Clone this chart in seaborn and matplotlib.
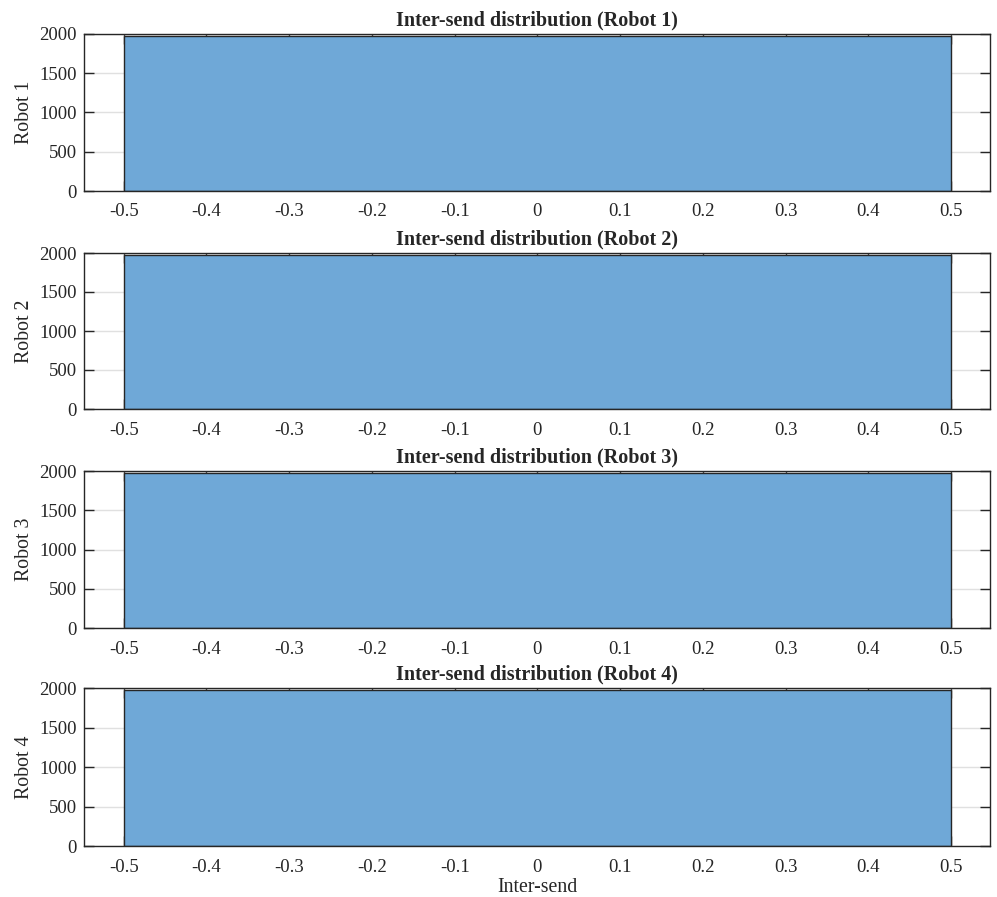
import matplotlib
matplotlib.use("Agg")
import matplotlib.pyplot as plt
import seaborn as sns
import numpy as np

robots = ["Robot 1", "Robot 2", "Robot 3", "Robot 4"]
bin_edges = [-0.5, 0.5]
bin_centers = [0.0]
counts = {
    "Robot 1": [1975],
    "Robot 2": [1975],
    "Robot 3": [1975],
    "Robot 4": [1975],
}
x_ticks = [-0.5, -0.4, -0.3, -0.2, -0.1, 0, 0.1, 0.2, 0.3, 0.4, 0.5]
x_ticklabels = ["-0.5", "-0.4", "-0.3", "-0.2", "-0.1", "0", "0.1", "0.2", "0.3", "0.4", "0.5"]
y_ticks = [0, 500, 1000, 1500, 2000]

sns.set_theme(style="white")
plt.rcParams["font.family"] = ["Liberation Serif", "DejaVu Serif"]

fig = plt.figure(figsize=(9.97, 8.97), dpi=100)
W, H = 997, 897
tops = [34, 253, 471, 688]
bottoms = [191, 409, 628, 846]
left, right = 84, 990

bar_color = (0.435, 0.659, 0.843)
ink = "#262626"

for i, name in enumerate(robots):
    ax = fig.add_axes([left / W, 1 - bottoms[i] / H, (right - left) / W, (bottoms[i] - tops[i]) / H])
    sns.histplot(x=bin_centers, weights=counts[name], bins=bin_edges, ax=ax,
                 color=bar_color, alpha=1.0, edgecolor=ink, linewidth=1.0, zorder=2)
    ax.set_xlim(-0.548, 0.547)
    ax.set_ylim(0, 2000)
    ax.set_xticks(x_ticks)
    ax.set_xticklabels(x_ticklabels)
    ax.set_yticks(y_ticks)
    ax.yaxis.grid(True, color="#e0e0e0", linewidth=1.0, zorder=0)
    ax.xaxis.grid(False)
    ax.set_axisbelow(True)
    ax.tick_params(axis="both", direction="in", length=7, width=1.0, color=ink,
                   labelsize=13.5, labelcolor=ink, top=True, right=True,
                   bottom=True, left=True)
    ax.tick_params(axis="x", pad=9)
    ax.tick_params(axis="y", pad=5)
    for sp in ax.spines.values():
        sp.set_visible(True)
        sp.set_color(ink)
        sp.set_linewidth(1.0)
        sp.set_zorder(5)
    ax.set_ylabel(name, fontsize=14.3, color=ink, labelpad=4)
    ax.set_title(f"Inter-send distribution ({name})", fontsize=14.5, fontweight="bold",
                 color=ink, pad=6)
    if i == len(robots) - 1:
        ax.set_xlabel("Inter-send", fontsize=14.3, color=ink, labelpad=2)
    else:
        ax.set_xlabel("")

fig.savefig("out.png", dpi=100)
